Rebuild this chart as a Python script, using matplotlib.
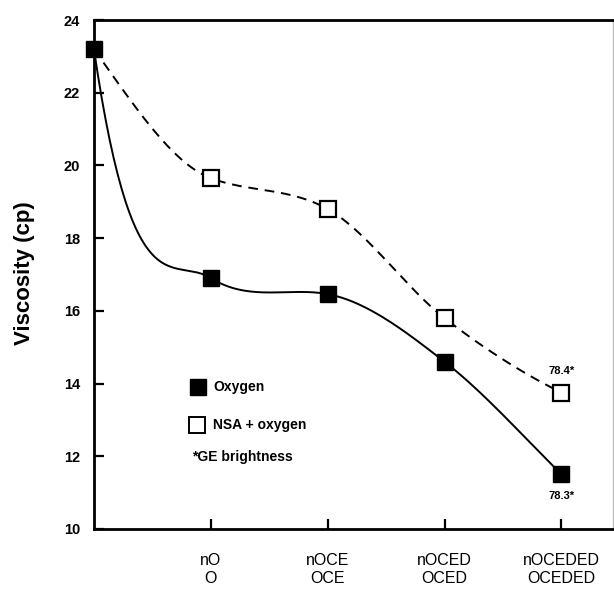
import numpy as np
import matplotlib
matplotlib.use("Agg")
import matplotlib.pyplot as plt

plt.rcParams['font.family'] = ['Liberation Sans', 'DejaVu Sans']

# data
stages = [0, 1, 2, 3, 4]
stage_labels = ["nO\nO", "nOCE\nOCE", "nOCED\nOCED", "nOCEDED\nOCEDED"]
oxygen = [23.2, 16.9, 16.46, 14.6, 11.5]
nsa_oxygen = [23.2, 19.65, 18.8, 15.8, 13.75]
brightness_oxygen = "78.3*"
brightness_nsa = "78.4*"

# tangents used only to draw the smooth curves through the points
oxy_slopes = [-22, -2.0, -0.6, -2.5, -3.2]
nsa_slopes = [-4.5, -1.2, -1.8, -2.5, -1.6]


def hermite(xs, ys, ms, n=60):
    px, py = [], []
    for i in range(len(xs) - 1):
        h = xs[i + 1] - xs[i]
        t = np.linspace(0, 1, n)
        h00 = 2 * t**3 - 3 * t**2 + 1
        h10 = t**3 - 2 * t**2 + t
        h01 = -2 * t**3 + 3 * t**2
        h11 = t**3 - t**2
        px.append(xs[i] + t * h)
        py.append(h00 * ys[i] + h10 * h * ms[i] + h01 * ys[i + 1] + h11 * h * ms[i + 1])
    return np.concatenate(px), np.concatenate(py)


fig = plt.figure(figsize=(6.14, 5.89), dpi=100)
ax = fig.add_axes([0.153, 0.102, 0.845, 0.864])

cx, cy = hermite(stages, nsa_oxygen, nsa_slopes)
ax.plot(cx, cy, color='black', lw=1.4, ls=(0, (5, 3.5)), zorder=2)
cx, cy = hermite(stages, oxygen, oxy_slopes)
ax.plot(cx, cy, color='black', lw=1.4, zorder=2)

ax.plot(stages[1:], nsa_oxygen[1:], ls='none', marker='s', ms=11,
        mfc='white', mec='black', mew=1.6, zorder=3)
ax.plot(stages, oxygen, ls='none', marker='s', ms=11,
        mfc='black', mec='black', zorder=4, clip_on=False)

ax.text(stages[-1], nsa_oxygen[-1] + 0.45, brightness_nsa, ha='center', va='bottom',
        fontsize=8, fontweight='bold')
ax.text(stages[-1], oxygen[-1] - 0.45, brightness_oxygen, ha='center', va='top',
        fontsize=8, fontweight='bold')

# legend drawn by hand like the original
ax.plot([0.89], [13.9], marker='s', ms=11, mfc='black', mec='black', ls='none')
ax.text(1.02, 13.9, "Oxygen", va='center', fontsize=10, fontweight='bold')
ax.plot([0.88], [12.86], marker='s', ms=11, mfc='white', mec='black', mew=1.4, ls='none')
ax.text(1.02, 12.86, "NSA + oxygen", va='center', fontsize=10, fontweight='bold')
ax.text(0.84, 11.98, "*GE brightness", va='center', fontsize=10, fontweight='bold')

ax.set_xlim(0, 4.44)
ax.set_ylim(10, 24)
ax.set_yticks(range(10, 25, 2))
ax.set_xticks(stages[1:])
ax.set_xticklabels(stage_labels, linespacing=1.25)
ax.tick_params(direction='in', length=7, width=1.6)
ax.tick_params(axis='y', pad=10, labelsize=10.5)
ax.tick_params(axis='x', pad=17, labelsize=11.5)
for lab in ax.get_yticklabels():
    lab.set_fontweight('bold')

for side in ['left', 'bottom', 'top']:
    ax.spines[side].set_linewidth(2)
ax.spines['right'].set_color('#bbbbbb')
ax.spines['right'].set_linewidth(1)

ax.set_ylabel("Viscosity (cp)", fontsize=16, fontweight='bold')
ax.yaxis.set_label_coords(-0.114, 0.502)

fig.savefig("out.png", dpi=100)
